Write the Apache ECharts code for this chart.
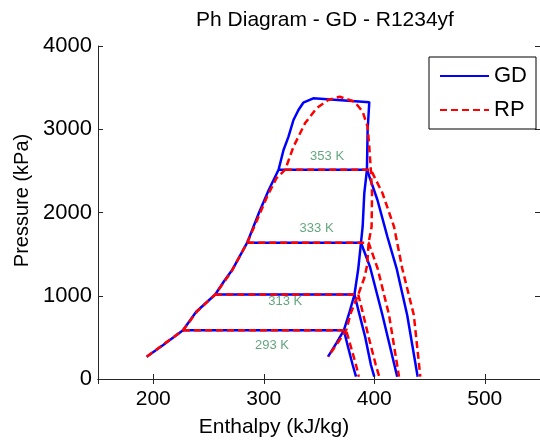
<!DOCTYPE html>
<html>
<head>
<meta charset="utf-8">
<script src="https://cdn.jsdelivr.net/npm/echarts@6/dist/echarts.min.js"></script>
<style>
    html, body { margin: 0; padding: 0; background: #fff; }
    #chart { width: 540px; height: 444px; }
</style>
</head>
<body>
<div id="chart"></div>
<script>
// saturation dome, [enthalpy kJ/kg, pressure kPa]
const gdDome = [[194.1, 268], [209.0, 408], [226.9, 585], [238.9, 808], [256.1, 1015], [264.2, 1177], [271.4, 1309], [285.0, 1637], [295.5, 1990], [304.5, 2270], [313.4, 2514], [317.9, 2751], [322.4, 2911], [326.9, 3111], [331.4, 3231], [335.8, 3319], [344.8, 3372], [395.5, 3324], [394.0, 2991], [393.4, 2514], [391.0, 2234], [389.5, 1829], [388.0, 1637], [385.5, 1321], [382.1, 1015], [377.4, 793], [372.5, 585], [365.6, 429], [358.2, 268]]
const rpDome = [[194.1, 268], [209.6, 420], [226.9, 585], [240.0, 817], [256.1, 1015], [270.5, 1285], [285.0, 1637], [294.0, 1910], [303.0, 2190], [311.6, 2414], [319.4, 2514], [326.9, 2790], [337.3, 3071], [347.7, 3252], [358.2, 3351], [368.7, 3391], [382.1, 3331], [389.5, 3211], [394.0, 3031], [395.5, 2790], [396.9, 2514], [398.0, 2234], [397.6, 1829], [394.9, 1637], [393.6, 1369], [391.0, 1213], [385.5, 1015], [378.8, 793], [374.6, 585], [366.2, 420], [358.2, 268]]

// isotherms: two-phase line then superheated branch
const gd293 = [[226.9, 585], [372.5, 585], [376.5, 372], [380.5, 168], [383.5, 28]]
const gd313 = [[256.1, 1015], [382.1, 1015], [385.2, 849], [391.8, 505], [397.0, 168], [400.0, 28]]
const gd333 = [[285.0, 1637], [388.0, 1637], [396.2, 1345], [407.4, 769], [420.8, 28]]
const gd353 = [[313.4, 2514], [393.4, 2514], [402.9, 2150], [411.9, 1709], [420.2, 1330], [429.8, 769], [439.3, 28]]
const rp293 = [[226.9, 585], [374.6, 585], [383.5, 168], [386.0, 28]]
const rp313 = [[256.1, 1015], [385.5, 1015], [388.6, 853], [394.9, 505], [401.4, 168], [404.5, 28]]
const rp333 = [[285.0, 1637], [394.9, 1637], [403.0, 1330], [413.4, 769], [422.4, 28]]
const rp353 = [[319.4, 2514], [396.9, 2514], [407.4, 2234], [417.9, 1829], [425.3, 1330], [435.8, 769], [441.7, 28]]

const labelH = [307.4, 319.5, 347.8, 357.3]
const labelP = [408, 929, 1810, 2670]
const labelText = ['293 K', '313 K', '333 K', '353 K']

const FONT = 'Liberation Sans, Arial, Helvetica, sans-serif'

const chart = echarts.init(document.getElementById('chart'))

function gdLine(data) {
    return {
        name: 'GD',
        type: 'line',
        data: data,
        symbol: 'none',
        lineStyle: { color: '#0000ff', width: 2.5, type: 'solid' },
        itemStyle: { color: '#0000ff' },
        z: 2,
    }
}
function rpLine(data) {
    return {
        name: 'RP',
        type: 'line',
        data: data,
        symbol: 'none',
        lineStyle: { color: '#ff0000', width: 2.5, type: [7, 4] },
        itemStyle: { color: '#ff0000' },
        z: 3,
    }
}

const axisLine = { show: true, lineStyle: { color: '#262626', width: 1 } }
const plain = v => String(v)

const option = {
    animation: false,
    backgroundColor: '#fff',
    title: {
        text: 'Ph Diagram - GD - R1234yf',
        left: 320,
        top: 5,
        textAlign: 'center',
        textStyle: { fontFamily: FONT, fontSize: 21, fontWeight: 'normal', color: '#000' },
    },
    legend: {
        data: ['GD', 'RP'],
        orient: 'vertical',
        left: 429,
        top: 57,
        padding: [8, 9, 8, 10],
        itemGap: 12,
        itemWidth: 49,
        itemHeight: 14,
        borderColor: '#000',
        borderWidth: 1,
        backgroundColor: '#fff',
        itemStyle: { opacity: 0 },
        textStyle: { fontFamily: FONT, fontSize: 22, color: '#000' },
    },
    grid: { left: 98, top: 46, width: 446, height: 333, containLabel: false },
    xAxis: [
        {
            type: 'value',
            min: 150,
            max: 550,
            splitNumber: 4,
            name: 'Enthalpy (kJ/kg)',
            nameLocation: 'middle',
            nameGap: 38,
            nameTextStyle: { fontFamily: FONT, fontSize: 21, color: '#000', padding: [0, 90, 0, 0] },
            axisLine: axisLine,
            axisTick: { show: true, inside: true, length: 5, lineStyle: { color: '#262626' } },
            axisLabel: { fontFamily: FONT, fontSize: 21, color: '#000', margin: 10, showMinLabel: false, showMaxLabel: false, formatter: plain },
            splitLine: { show: false },
        },
        {
            type: 'value',
            position: 'top',
            min: 150,
            max: 550,
            splitNumber: 4,
            axisLine: axisLine,
            axisTick: { show: true, inside: true, length: 5, lineStyle: { color: '#262626' } },
            axisLabel: { show: false },
            splitLine: { show: false },
        },
    ],
    yAxis: [
        {
            type: 'value',
            min: 0,
            max: 4000,
            interval: 1000,
            name: 'Pressure (kPa)',
            nameLocation: 'middle',
            nameGap: 66,
            nameTextStyle: { fontFamily: FONT, fontSize: 20, color: '#000', padding: [0, 0, 0, 24] },
            axisLine: axisLine,
            axisTick: { show: true, inside: true, length: 5, lineStyle: { color: '#262626' } },
            axisLabel: { fontFamily: FONT, fontSize: 22, color: '#000', margin: 6, formatter: plain },
            splitLine: { show: false },
        },
        {
            type: 'value',
            position: 'right',
            min: 0,
            max: 4000,
            interval: 1000,
            axisLine: axisLine,
            axisTick: { show: true, inside: true, length: 5 },
            axisLabel: { show: false },
            splitLine: { show: false },
        },
    ],
    series: [
        gdLine(gdDome),
        gdLine(gd293),
        gdLine(gd313),
        gdLine(gd333),
        gdLine(gd353),
        rpLine(rpDome),
        rpLine(rp293),
        rpLine(rp313),
        rpLine(rp333),
        rpLine(rp353),
        {
            type: 'scatter',
            silent: true,
            symbolSize: 0,
            data: labelH.map((h, i) => [h, labelP[i], labelText[i]]),
            label: {
                show: true,
                position: 'inside',
                formatter: p => p.data[2],
                fontFamily: FONT,
                fontSize: 13,
                color: '#3d8f5f',
            },
            z: 4,
        },
    ],
}

chart.setOption(option)
</script>
</body>
</html>
